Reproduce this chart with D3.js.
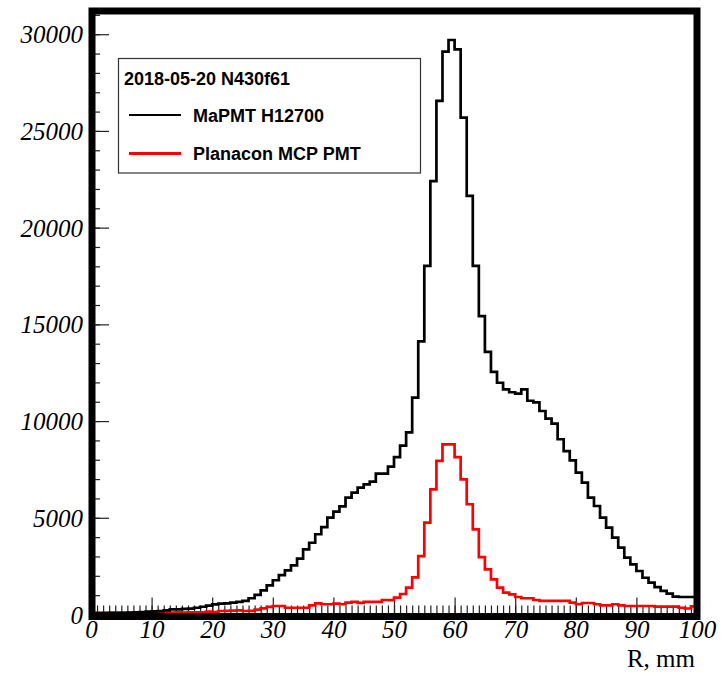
<!DOCTYPE html>
<html><head><meta charset="utf-8">
<script src="https://cdn.jsdelivr.net/npm/d3@7"></script>
<style>body{margin:0;background:#fff}</style>
</head><body><svg id="c" width="728" height="673"></svg>
<script>
// ---- data ----
const binWidth = 1; // mm
const binStarts = d3.range(0, 100, binWidth);
const xTickValues = [0, 10, 20, 30, 40, 50, 60, 70, 80, 90, 100];
const yTickValues = [0, 5000, 10000, 15000, 20000, 25000, 30000];
const legendTitle = "2018-05-20 N430f61";
const seriesNames = ["MaPMT H12700", "Planacon MCP PMT"];
const xTitle = "R, mm";
const mapmt = [
  60, 70, 70, 80, 80, 90, 100, 110, 120, 150,
  160, 170, 210, 260, 270, 290, 300, 350, 400, 460,
  520, 560, 580, 610, 650, 700, 840, 1010, 1250, 1510,
  1770, 2040, 2280, 2540, 2890, 3370, 3710, 4150, 4520, 5010,
  5320, 5590, 6040, 6300, 6560, 6730, 6870, 7280, 7280, 7640,
  8140, 8730, 9420, 11210, 14120, 18020, 22410, 26550, 29100, 29700,
  29220, 25690, 21640, 18020, 15430, 13580, 12540, 11980, 11640, 11490,
  11420, 11640, 11050, 10970, 10520, 10130, 9870, 9060, 8450, 7970,
  7330, 6820, 6040, 5610, 5010, 4490, 3970, 3460, 2940, 2590,
  2250, 1900, 1650, 1420, 1220, 1080, 920, 905, 905, 905
];
const planacon = [
  80, 80, 85, 85, 90, 85, 90, 90, 95, 90,
  95, 100, 95, 100, 105, 100, 110, 105, 110, 150,
  120, 180, 185, 200, 210, 181, 190, 250, 320, 390,
  440, 440, 350, 350, 350, 350, 470, 580, 530, 530,
  560, 530, 610, 660, 600, 650, 650, 650, 750, 740,
  870, 1060, 1390, 1920, 3020, 4750, 6470, 7940, 8800, 8800,
  8140, 6990, 5700, 4400, 2970, 2330, 1820, 1390, 1130, 1040,
  905, 840, 840, 750, 700, 700, 700, 700, 700, 610,
  530, 595, 595, 530, 475, 475, 530, 475, 440, 440,
  440, 440, 440, 405, 405, 405, 405, 350, 310, 420
];

// ---- layout ----
const svg = d3.select("#c");
const L = 92, R = 697, T = 11, B = 616.5;
const x = d3.scaleLinear().domain([0, 100]).range([91, 697]);
const y = d3.scaleLinear().domain([0, 31200]).range([614.5, 11]);

svg.append("defs").append("clipPath").attr("id", "clip")
  .append("rect").attr("x", L).attr("y", T).attr("width", R - L).attr("height", B - T);

// axes ticks (inward)
const tickFont = "'Liberation Serif','Times New Roman',serif";
const yMinor = d3.axisLeft(y).tickValues(d3.range(0, 31001, 1000)).tickSize(-8).tickFormat("");
const yMajor = d3.axisLeft(y).tickValues(yTickValues).tickSize(-17).tickPadding(9).tickFormat(d3.format("d"));
const gYm = svg.append("g").attr("transform", `translate(${L},0)`).call(yMinor);
const gY = svg.append("g").attr("transform", `translate(${L},0)`).call(yMajor);
[gYm, gY].forEach(g => { g.select(".domain").remove(); g.selectAll("line").attr("stroke", "#222").attr("stroke-width", 1.2); });
gY.selectAll("text").attr("font-family", tickFont).attr("font-style", "italic")
  .attr("font-size", 25).attr("fill", "#000").attr("dy", "0.34em");

const xMinor = d3.axisBottom(x).tickValues(d3.range(0, 101, 1)).tickSize(-11).tickFormat("");
const xMajor = d3.axisBottom(x).tickValues(xTickValues).tickSize(-19).tickFormat(d3.format("d"));
const gXm = svg.append("g").attr("transform", `translate(0,${B})`).call(xMinor);
const gX = svg.append("g").attr("transform", `translate(0,${B})`).call(xMajor);
[gXm, gX].forEach(g => { g.select(".domain").remove(); g.selectAll("line").attr("stroke", "#222").attr("stroke-width", 1.2); });
gX.selectAll("text").attr("font-family", tickFont).attr("font-style", "italic")
  .attr("font-size", 25).attr("fill", "#000").attr("y", 21.5).attr("dy", 0);

// histograms
function stepPoints(vals) {
  const pts = [];
  vals.forEach((v, i) => {
    pts.push([x(binStarts[i]), y(v)]);
    pts.push([x(binStarts[i] + binWidth), y(v)]);
  });
  return pts;
}
const line = d3.line();
const plot = svg.append("g").attr("clip-path", "url(#clip)");
plot.append("path").attr("d", line(stepPoints(planacon)))
  .attr("fill", "none").attr("stroke", "#ff0000").attr("stroke-width", 2.7).attr("stroke-linejoin", "miter");
plot.append("path").attr("d", line(stepPoints(mapmt)))
  .attr("fill", "none").attr("stroke", "#000").attr("stroke-width", 2.7).attr("stroke-linejoin", "miter");

// frame
svg.append("rect").attr("x", L).attr("y", T).attr("width", R - L).attr("height", B - T)
  .attr("fill", "none").attr("stroke", "#000").attr("stroke-width", 7);

// x title
svg.append("text").attr("x", 695).attr("y", 667).attr("text-anchor", "end")
  .attr("font-family", tickFont).attr("font-size", 25).text(xTitle);

// legend
const lg = svg.append("g");
lg.append("rect").attr("x", 118.5).attr("y", 58.5).attr("width", 302).attr("height", 114.5)
  .attr("fill", "#fff").attr("stroke", "#333").attr("stroke-width", 1.2);
const lf = "'Liberation Sans',Arial,sans-serif";
lg.append("text").attr("x", 124).attr("y", 85).attr("font-family", lf).attr("font-weight", "bold")
  .attr("font-size", 18).text(legendTitle);
const colors = ["#000", "#ff0000"];
const widths = [2.2, 3.2];
seriesNames.forEach((n, i) => {
  const cy = 115 + i * 38.5;
  lg.append("line").attr("x1", 129).attr("x2", 181).attr("y1", cy).attr("y2", cy)
    .attr("stroke", colors[i]).attr("stroke-width", widths[i]);
  lg.append("text").attr("x", 193).attr("y", cy + 6.5).attr("font-family", lf).attr("font-weight", "bold")
    .attr("font-size", 18).text(n);
});
</script></body></html>
